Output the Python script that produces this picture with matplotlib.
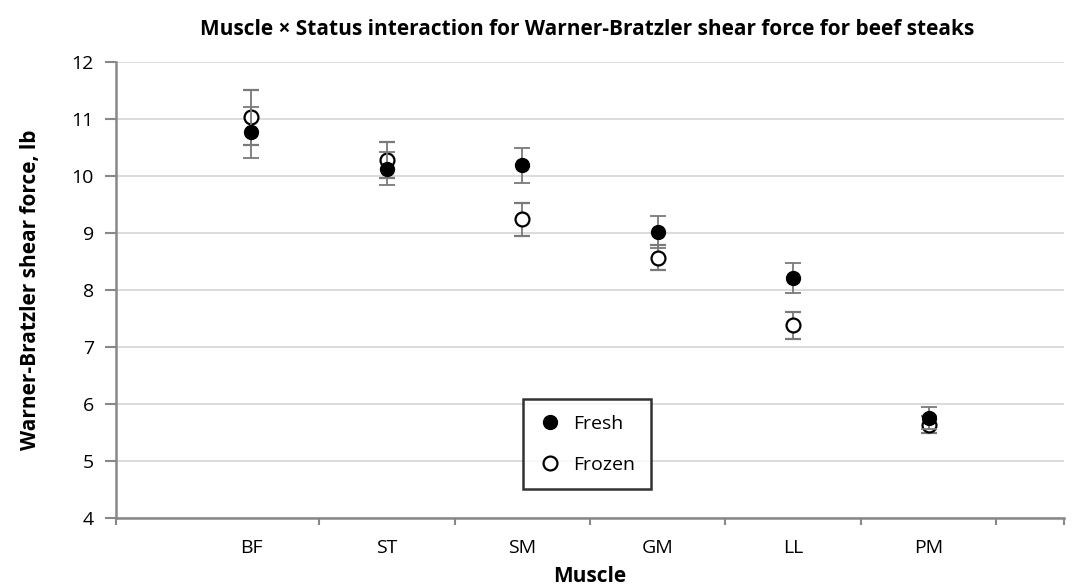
import numpy as np
import matplotlib.pyplot as plt

plt.rcParams['font.family'] = ['Open Sans', 'DejaVu Sans']

muscles = ['BF', 'ST', 'SM', 'GM', 'LL', 'PM']
fresh = [10.77, 10.13, 10.19, 9.02, 8.21, 5.75]
fresh_err = [0.45, 0.29, 0.31, 0.28, 0.26, 0.19]
frozen = [11.03, 10.28, 9.24, 8.57, 7.38, 5.64]
frozen_err = [0.48, 0.32, 0.29, 0.22, 0.23, 0.15]

x = np.arange(1, len(muscles) + 1)

fig = plt.figure(figsize=(10.73, 5.86), dpi=100)
ax = fig.add_axes([0.1081, 0.116, 0.8835, 0.778])

ecol = '#7a7a7a'
ax.errorbar(x, frozen, yerr=frozen_err, fmt='o', ms=10, mfc='white', mec='black',
            mew=1.6, ecolor=ecol, elinewidth=1.3, capsize=5.8, capthick=1.3,
            label='Frozen', zorder=3)
ax.errorbar(x, fresh, yerr=fresh_err, fmt='o', ms=10, mfc='black', mec='black',
            ecolor=ecol, elinewidth=1.3, capsize=5.8, capthick=1.3,
            label='Fresh', zorder=4)

ax.set_xlim(0, 7)
ax.set_ylim(4, 12)
ax.set_yticks(range(4, 13))
ax.grid(axis='y', color='#d9d9d9', lw=1.3)
ax.set_axisbelow(True)

ax.set_xticks(x)
ax.set_xticklabels(muscles)
ax.set_xticks([0, 1.5, 2.5, 3.5, 4.5, 5.5, 6.5, 7], minor=True)
ax.tick_params(axis='x', which='major', length=0, pad=15, labelsize=14)
ax.tick_params(axis='x', which='minor', length=5, width=1.5, color='#888888', direction='out')
ax.tick_params(axis='y', length=8, width=1.5, color='#888888', labelsize=14, pad=8)

for side in ['top', 'right']:
    ax.spines[side].set_visible(False)
for side in ['left', 'bottom']:
    ax.spines[side].set_color('#888888')
    ax.spines[side].set_linewidth(1.8)

ax.set_xlabel('Muscle', fontsize=15, fontweight='bold')
ax.xaxis.set_label_coords(0.5, -0.105)
ax.set_ylabel('Warner-Bratzler shear force, lb', fontsize=15, fontweight='bold')
ax.yaxis.set_label_coords(-0.079, 0.5)
fig.suptitle('Muscle \u00d7 Status interaction for Warner-Bratzler shear force for beef steaks',
             x=0.5475, y=0.949, va='center', fontsize=15, fontweight='bold')

h, l = ax.get_legend_handles_labels()
h = [hh[0] for hh in h]
leg = ax.legend(h[::-1], l[::-1], loc='upper left', bbox_to_anchor=(0.429, 0.261),
                frameon=True, fancybox=False, fontsize=14, borderpad=0.8,
                labelspacing=1.2, handletextpad=0.6, handlelength=1.2,
                borderaxespad=0)
leg.get_frame().set_edgecolor('black')
leg.get_frame().set_linewidth(1.8)

fig.savefig('out.png', dpi=100)
